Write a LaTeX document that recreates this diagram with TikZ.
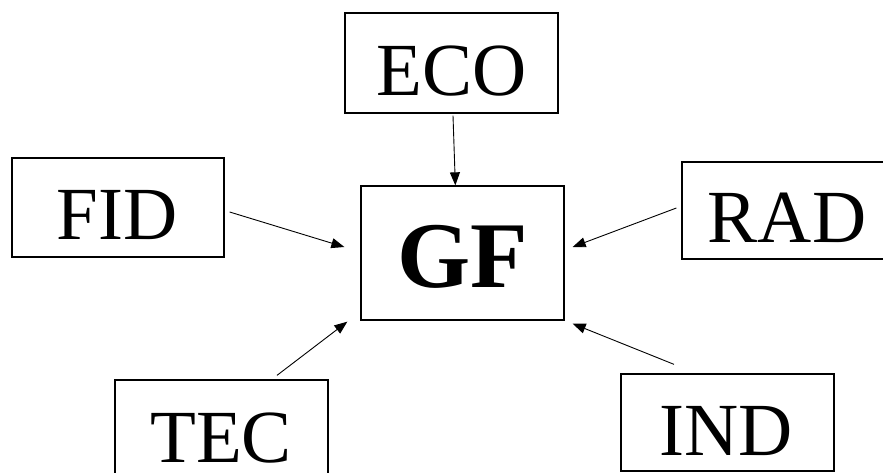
\documentclass[tikz,border=0pt]{standalone}
\usepackage{fontspec}
\setmainfont{Liberation Serif}
\usetikzlibrary{calc,arrows.meta}
\begin{document}
\begin{tikzpicture}[x=1pt,y=-1pt,
  box/.style={draw=black,line width=1.3pt,rectangle,inner sep=0pt},
  lbl/.style={inner sep=0pt,anchor=base,font=\fontsize{75}{80}\selectfont},
  arr/.style={line width=0.9pt,-{Triangle[length=13pt,width=10pt]}}]
\clip (0,0) rectangle (883,472);
\fill[white] (0,0) rectangle (883,472);
% boxes
\node[box,minimum width=213pt,minimum height=100pt] (eco) at (451.5,63) {};
\node[box,minimum width=203pt,minimum height=134pt] (gf) at (462.5,253) {};
\node[box,minimum width=212pt,minimum height=99pt] (fid) at (118,207.5) {};
\node[box,minimum width=210pt,minimum height=97pt] (rad) at (787,210.5) {};
\node[box,minimum width=213pt,minimum height=110pt] (tec) at (221.5,435) {};
\node[box,minimum width=213pt,minimum height=97pt] (ind) at (727.5,422.5) {};
% labels
\node[lbl] (ecot) at (451.5,95) {ECO};
\node[lbl,font=\fontsize{94}{100}\selectfont\bfseries] (gft) at (463,287) {GF};
\node[lbl] (fidt) at (117,239) {FID};
\node[lbl] (radt) at (787,242) {RAD};
\node[lbl] (tect) at (221,462) {TEC};
\node[lbl] (indt) at (726,455) {IND};
% arrows
\draw[arr] ($(eco.south)+(1.5,2)$) -- ($(gf.north west)+(95,0)$);
\draw[arr] ($(fid.east)+(5,4.5)$) -- ($(gf.west)+(-16,-6)$);
\draw[arr] ($(rad.west)+(-5,-2.5)$) -- ($(gf.east)+(8,-6)$);
\draw[arr] ($(tec.north)+(55.5,-4)$) -- ($(gf.south west)+(-13,1)$);
\draw[arr] ($(ind.north)+(-53.5,-9)$) -- ($(gf.south east)+(8,3)$);
\end{tikzpicture}
\end{document}
